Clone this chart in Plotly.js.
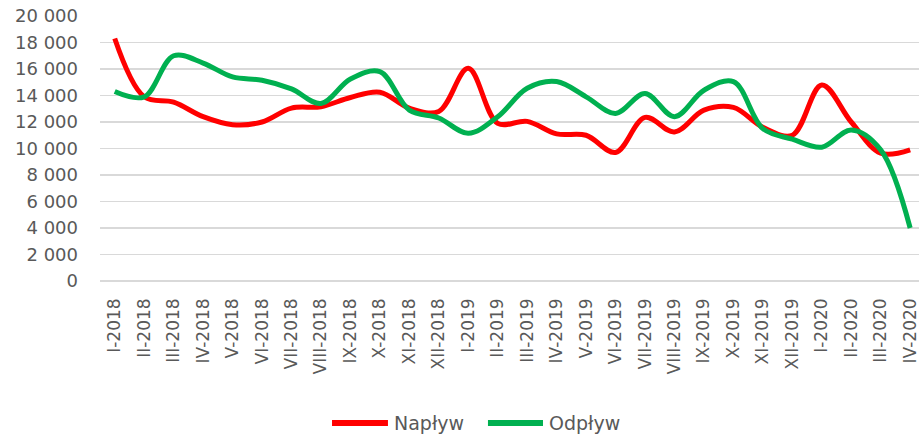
<!DOCTYPE html>
<html>
<head>
<meta charset="utf-8">
<script src="https://cdn.plot.ly/plotly-3.0.1.min.js"></script>
<style>html,body{margin:0;padding:0;background:#fff;}#chart{width:919px;height:437px;}</style>
</head>
<body>
<div id="chart"></div>
<script>
const categories = ["I-2018","II-2018","III-2018","IV-2018","V-2018","VI-2018","VII-2018","VIII-2018","IX-2018","X-2018","XI-2018","XII-2018",
  "I-2019","II-2019","III-2019","IV-2019","V-2019","VI-2019","VII-2019","VIII-2019","IX-2019","X-2019","XI-2019","XII-2019",
  "I-2020","II-2020","III-2020","IV-2020"];
const naplyw = [18300, 13900, 13500, 12400, 11800, 12000, 13050, 13150, 13850, 14250, 13050, 12800,
  16050, 11900, 12050, 11100, 11000, 9700, 12350, 11250, 12900, 13100, 11600, 11000,
  14800, 12000, 9650, 9900];
const odplyw = [14300, 13900, 17000, 16450, 15400, 15150, 14500, 13400, 15250, 15800, 12900, 12300,
  11150, 12400, 14550, 15050, 13900, 12650, 14150, 12400, 14400, 15050, 11500, 10700,
  10100, 11400, 9900, 4000];
const yTicks = [0, 2000, 4000, 6000, 8000, 10000, 12000, 14000, 16000, 18000, 20000];
const seriesNames = ["Napływ", "Odpływ"];
const seriesColors = ["#FF0000", "#00B050"];

const font = "DejaVu Sans, Liberation Sans, Arial, sans-serif";
const traces = [
  {x: categories, y: naplyw, name: seriesNames[0], type: "scatter", mode: "lines",
   line: {color: seriesColors[0], width: 5, shape: "spline", smoothing: 1}},
  {x: categories, y: odplyw, name: seriesNames[1], type: "scatter", mode: "lines",
   line: {color: seriesColors[1], width: 5, shape: "spline", smoothing: 1}}
];

// custom legend (paper coordinates)
const legY = -0.536;
const legItems = [{x0: 0.2833, x1: 0.3516, tx: 0.3570}, {x0: 0.4737, x1: 0.5409, tx: 0.5455}];
const shapes = legItems.map((it, i) => ({type: "line", xref: "paper", yref: "paper",
  x0: it.x0, x1: it.x1, y0: legY, y1: legY, line: {color: seriesColors[i], width: 6}}));
const annotations = legItems.map((it, i) => ({xref: "paper", yref: "paper", x: it.tx, y: legY,
  xanchor: "left", yanchor: "middle", showarrow: false, text: seriesNames[i],
  font: {family: font, size: 19, color: "#595959"}}));

const layout = {
  width: 919, height: 437,
  margin: {l: 100, r: 0, t: 16, b: 156},
  paper_bgcolor: "#fff", plot_bgcolor: "#fff",
  separators: ", ",
  showlegend: false,
  shapes: shapes,
  annotations: annotations,
  xaxis: {type: "category", range: [-0.5, 27.3], tickangle: -90,
    tickfont: {family: font, size: 17, color: "#595959"},
    showgrid: false, zeroline: false, showline: false, ticks: "", ticklabelstandoff: 13, fixedrange: true},
  yaxis: {range: [0, 20000], tickvals: yTicks, tickformat: ",d",
    tickfont: {family: font, size: 18, color: "#595959"},
    gridcolor: "#D9D9D9", gridwidth: 1.3, zeroline: true, zerolinecolor: "#D9D9D9", zerolinewidth: 1.3,
    showline: false, ticks: "", ticklabelstandoff: 21, fixedrange: true},
  hovermode: false
};
Plotly.newPlot("chart", traces, layout, {staticPlot: true, displayModeBar: false});
</script>
</body>
</html>
